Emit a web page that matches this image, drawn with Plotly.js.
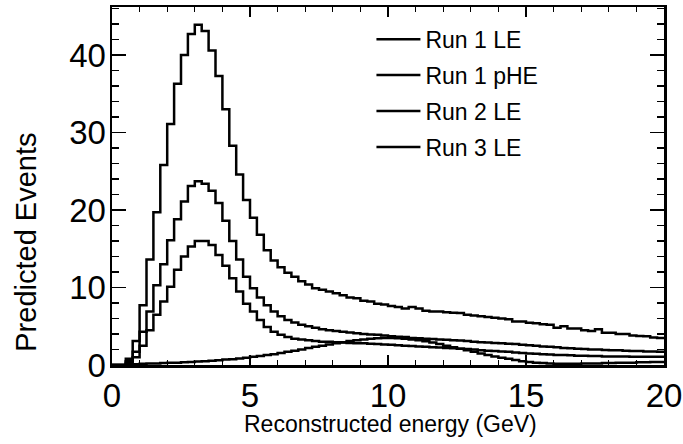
<!DOCTYPE html>
<html>
<head>
<meta charset="utf-8">
<script src="https://cdn.plot.ly/plotly-3.0.1.min.js"></script>
<style>html,body{margin:0;padding:0;background:#fff;}#chart{width:683px;height:444px;}</style>
</head>
<body>
<div id="chart"></div>
<script>
// Histogram binning (GeV): 80 bins of 0.25 from 0 to 20
var binLow = 0, binWidth = 0.25;
var seriesNames = ["Run 1 LE", "Run 1 pHE", "Run 2 LE", "Run 3 LE"];

// Predicted events per bin
var run3LE = [0,0,0.8,3.1, 7.7,13.6,19.7,25.8, 31.1,36.3,40.0,42.7, 43.9,43.1,40.6,37.3,
  33.0,28.3,24.6,21.3, 19.0,16.8,14.8,13.5, 12.6,11.9,11.4,10.8, 10.4,9.9,9.7,9.5,
  9.25,9.0,8.7,8.6, 8.3,8.2,7.9,7.8, 7.6,7.5,7.3,7.5, 7.3,7.0,6.9,6.9,
  6.8,6.75,6.7,6.5, 6.4,6.3,6.2,6.1, 6.0,5.9,5.6,5.6, 5.45,5.4,5.25,5.2,
  4.8,5.0,4.7,4.7, 4.5,4.4,4.6,4.15, 4.15,4.0,4.0,3.8, 3.75,3.7,3.55,3.5];

var run2LE = [0,0,0.5,1.7, 4.3,6.9,10.3,13.0, 16.1,18.8,21.1,23.1, 23.7,23.4,22.5,20.9,
  18.6,16.0,13.6,11.4, 9.9,8.7,7.7,6.9, 6.3,5.8,5.5,5.2, 5.0,4.8,4.6,4.5,
  4.4,4.3,4.2,4.1, 4.0,3.95,3.9,3.8, 3.7,3.65,3.6,3.5, 3.45,3.4,3.35,3.3,
  3.25,3.2,3.15,3.1, 3.0,2.95,2.9,2.85, 2.8,2.75,2.7,2.6, 2.55,2.5,2.4,2.35,
  2.3,2.2,2.15,2.1, 2.05,2.0,2.0,1.95, 1.9,1.9,1.85,1.8, 1.8,1.75,1.75,1.7];

var run1LE = [0,0,0.3,1.0, 2.5,4.5,6.5,8.2, 10.1,12.3,14.0,15.3, 16.0,16.0,15.5,14.2,
  12.8,11.2,9.5,7.9, 6.9,5.8,4.9,4.3, 3.9,3.6,3.4,3.3, 3.2,3.1,3.0,3.0,
  2.95,2.9,2.85,2.8, 2.8,2.75,2.7,2.65, 2.6,2.55,2.5,2.45, 2.4,2.35,2.3,2.25,
  2.2,2.15,2.1,2.05, 2.0,1.9,1.85,1.8, 1.75,1.7,1.6,1.55, 1.5,1.45,1.4,1.35,
  1.3,1.3,1.25,1.2, 1.2,1.15,1.15,1.1, 1.1,1.1,1.1,1.05, 1.05,1.05,1.05,1.05];

var run1pHE = [0,0,0.05,0.1, 0.15,0.2,0.2,0.25, 0.3,0.3,0.35,0.4, 0.45,0.5,0.55,0.6,
  0.7,0.75,0.85,0.95, 1.05,1.15,1.3,1.4, 1.55,1.7,1.85,2.0, 2.2,2.35,2.5,2.65,
  2.8,2.95,3.1,3.2, 3.3,3.4,3.45,3.5, 3.5,3.45,3.4,3.3, 3.2,3.05,2.9,2.7,
  2.5,2.3,2.1,1.9, 1.7,1.5,1.3,1.1, 0.95,0.8,0.65,0.5, 0.4,0.3,0.25,0.2,
  0.15,0.15,0.15,0.15, 0.2,0.2,0.2,0.25, 0.25,0.3,0.3,0.3, 0.35,0.35,0.4,0.4];

var xTickVals = [0, 5, 10, 15, 20];
var yTickVals = [0, 10, 20, 30, 40];
var xTitle = 'Reconstructed energy (GeV)';
var yTitle = 'Predicted Events';

function stepXY(vals) {
  var xs = [], ys = [];
  for (var i = 0; i < vals.length; i++) { xs.push(binLow + i * binWidth); ys.push(vals[i]); }
  xs.push(binLow + vals.length * binWidth); ys.push(vals[vals.length - 1]);
  return {x: xs, y: ys};
}

var seriesData = [run1LE, run1pHE, run2LE, run3LE];
var traces = seriesData.map(function (vals, k) {
  var d = stepXY(vals);
  return {
    type: 'scatter', mode: 'lines', x: d.x, y: d.y, name: seriesNames[k],
    legendgroup: 'g' + k,
    line: {shape: 'hv', color: '#000', width: 2.5}
  };
});

var font = "'Liberation Sans', Arial, Helvetica, sans-serif";
var layout = {
  width: 683, height: 444,
  margin: {l: 112, r: 19, t: 7, b: 79},
  paper_bgcolor: '#fff', plot_bgcolor: '#fff',
  font: {family: font, color: '#000'},
  showlegend: true,
  legend: {x: 0.47, y: 0.97, xanchor: 'left', yanchor: 'top', bgcolor: 'rgba(0,0,0,0)',
    font: {size: 23, family: font}, tracegroupgap: 3, itemwidth: 44},
  xaxis: {
    range: [0, 20], tickvals: xTickVals, ticktext: xTickVals.map(String),
    ticks: 'inside', ticklen: 10, tickwidth: 1.5, tickcolor: '#000',
    showline: true, linewidth: 2.5, linecolor: '#000', mirror: 'ticks',
    showgrid: false, zeroline: false,
    minor: {dtick: 1, tick0: 0, ticks: 'inside', ticklen: 5, tickwidth: 1.2, tickcolor: '#000', showgrid: false},
    tickfont: {size: 33, family: font}
  },
  yaxis: {
    range: [0, 46.2], tickvals: yTickVals, ticktext: yTickVals.map(String),
    ticks: 'inside', ticklen: 14, tickwidth: 1.5, tickcolor: '#000',
    showline: true, linewidth: 2.5, linecolor: '#000', mirror: 'ticks',
    showgrid: false, zeroline: false, ticklabelstandoff: -3,
    minor: {dtick: 2, tick0: 0, ticks: 'inside', ticklen: 7, tickwidth: 1.2, tickcolor: '#000', showgrid: false},
    tickfont: {size: 33, family: font}
  },
  annotations: [
    {text: xTitle, xref: 'paper', yref: 'paper', x: 0.505, y: -0.165, xanchor: 'center', yanchor: 'middle',
      showarrow: false, font: {size: 23, family: font}},
    {text: yTitle, xref: 'paper', yref: 'paper', x: -0.156, y: 0.344, xanchor: 'center', yanchor: 'middle',
      textangle: -90, showarrow: false, font: {size: 29, family: font}}
  ]
};

Plotly.newPlot('chart', traces, layout, {staticPlot: true, displayModeBar: false});
</script>
</body>
</html>
